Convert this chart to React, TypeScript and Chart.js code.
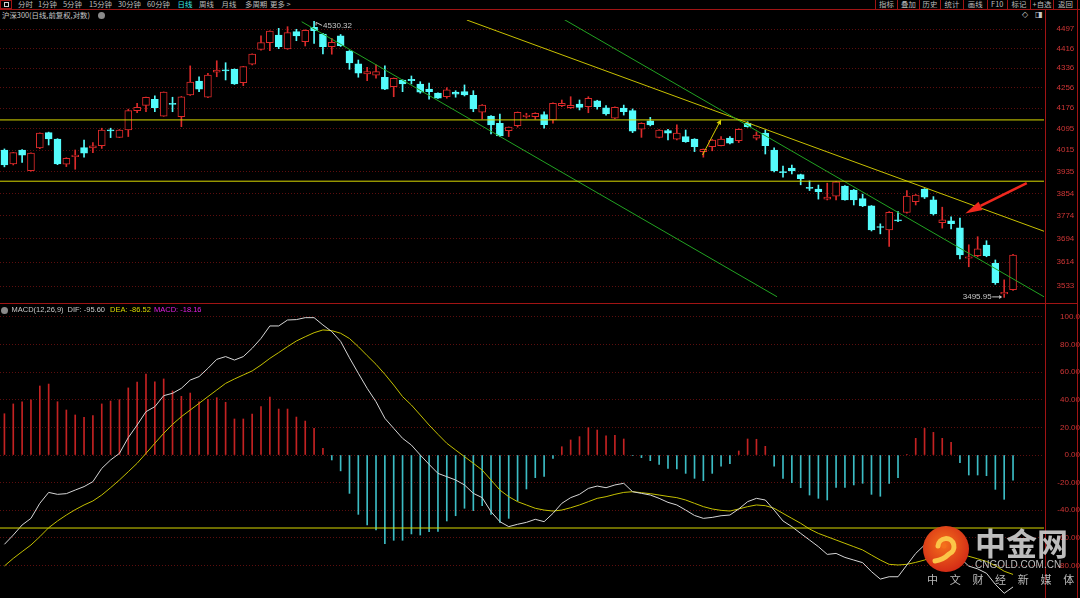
import React, { useEffect, useRef } from 'react';
import { Chart, registerables } from 'chart.js';

Chart.register(...registerables);

// ---------- price data (沪深300 daily) ----------
const OPEN = [4015, 3963, 4015, 3938, 4023, 4081, 4056, 3962, 3990, 4024,
  4023, 4031, 4091, 4063, 4091, 4166, 4187, 4211, 4145, 4195,
  4143, 4228, 4283, 4219, 4319, 4328, 4331, 4277, 4352, 4413,
  4441, 4473, 4415, 4487, 4445, 4505, 4477, 4424, 4469, 4406,
  4353, 4312, 4307, 4299, 4261, 4288, 4291, 4271, 4251, 4235,
  4221, 4239, 4241, 4227, 4160, 4145, 4117, 4089, 4108, 4143,
  4143, 4151, 4130, 4186, 4178, 4192, 4182, 4205, 4177, 4137,
  4176, 4166, 4094, 4127, 4063, 4089, 4056, 4066, 4056, 4009,
  4028, 4031, 4060, 4050, 4117, 4060, 4079, 4015, 3934, 3947,
  3923, 3877, 3870, 3834, 3845, 3881, 3867, 3836, 3810, 3736,
  3725, 3760, 3786, 3825, 3870, 3831, 3750, 3757, 3732, 3627,
  3636, 3672, 3610, 3507, 3521];
const HIGH = [4019, 4006, 4017, 4004, 4080, 4083, 4058, 3986, 4015, 4053,
  4043, 4098, 4098, 4093, 4172, 4195, 4220, 4225, 4240, 4219,
  4222, 4345, 4301, 4315, 4366, 4358, 4333, 4343, 4395, 4469,
  4490, 4501, 4508, 4497, 4495, 4530.32, 4480, 4459, 4475, 4408,
  4369, 4339, 4349, 4345, 4296, 4289, 4304, 4281, 4275, 4236,
  4257, 4245, 4268, 4245, 4190, 4147, 4153, 4103, 4161, 4156,
  4158, 4162, 4197, 4208, 4221, 4208, 4221, 4207, 4186, 4181,
  4188, 4173, 4119, 4140, 4093, 4094, 4111, 4091, 4058, 4019,
  4055, 4066, 4066, 4096, 4123, 4084, 4091, 4023, 3955, 3959,
  3925, 3900, 3885, 3892, 3899, 3883, 3869, 3852, 3811, 3746,
  3789, 3789, 3865, 3851, 3872, 3843, 3805, 3771, 3766, 3673,
  3701, 3687, 3621, 3554, 3640];
const LOW = [3952, 3959, 3968, 3936, 4020, 4034, 3960, 3953, 3943, 3988,
  4005, 4021, 4062, 4062, 4066, 4158, 4162, 4162, 4144, 4162,
  4104, 4226, 4241, 4217, 4301, 4288, 4270, 4265, 4349, 4410,
  4408, 4416, 4413, 4449, 4427, 4438, 4394, 4393, 4425, 4331,
  4299, 4285, 4295, 4249, 4221, 4241, 4272, 4235, 4211, 4214,
  4215, 4219, 4224, 4162, 4134, 4076, 4066, 4066, 4102, 4137,
  4133, 4098, 4117, 4182, 4175, 4169, 4158, 4172, 4149, 4135,
  4149, 4081, 4063, 4107, 4061, 4053, 4053, 4044, 4009, 3988,
  4012, 4030, 4038, 4043, 4102, 4053, 4000, 3933, 3914, 3926,
  3886, 3865, 3834, 3831, 3831, 3830, 3813, 3807, 3721, 3711,
  3667, 3754, 3784, 3813, 3836, 3777, 3731, 3728, 3625, 3598,
  3632, 3632, 3539, 3495.95, 3519];
const CLOSE = [3959, 4005, 3996, 4003, 4079, 4057, 3963, 3984, 3996, 4003,
  4031, 4091, 4088, 4091, 4166, 4179, 4219, 4178, 4239, 4191,
  4221, 4279, 4251, 4308, 4328, 4325, 4272, 4342, 4394, 4441,
  4489, 4424, 4483, 4469, 4493, 4491, 4424, 4442, 4428, 4357,
  4315, 4322, 4322, 4251, 4295, 4272, 4285, 4239, 4241, 4215,
  4248, 4231, 4228, 4173, 4188, 4111, 4068, 4102, 4160, 4148,
  4156, 4112, 4195, 4195, 4187, 4179, 4215, 4182, 4153, 4179,
  4162, 4087, 4117, 4111, 4091, 4079, 4079, 4047, 4028, 4018,
  4053, 4056, 4041, 4094, 4104, 4072, 4031, 3937, 3930, 3937,
  3908, 3873, 3861, 3841, 3897, 3831, 3831, 3810, 3725, 3733,
  3787, 3756, 3845, 3849, 3841, 3781, 3760, 3747, 3638, 3632,
  3659, 3636, 3545, 3513, 3638];

// ---------- MACD(12,26,9) ----------
const DIF = [-64.7, -58.0, -50.7, -45.9, -35.0, -27.1, -28.5, -28.0, -25.4, -22.9,
  -19.3, -9.7, -3.6, 1.2, 12.6, 21.7, 31.4, 35.0, 43.0, 44.7,
  48.3, 54.3, 56.8, 62.8, 69.3, 71.3, 68.8, 71.3, 77.3, 84.5,
  93.5, 93.5, 97.8, 98.1, 99.5, 99.5, 94.2, 89.4, 82.3, 70.4,
  59.2, 48.3, 38.6, 26.6, 19.3, 12.1, 7.2, 0.0, -6.8, -13.3,
  -15.7, -18.1, -21.7, -27.8, -30.9, -41.1, -48.3, -51.9, -50.2, -48.8,
  -46.6, -48.3, -42.3, -35.0, -30.9, -28.5, -24.2, -22.5, -23.7, -21.7,
  -20.5, -26.6, -27.8, -29.0, -31.4, -34.3, -36.2, -39.9, -43.8, -45.9,
  -45.2, -44.0, -43.5, -39.1, -33.8, -31.4, -32.6, -39.9, -47.8, -51.9,
  -56.8, -61.6, -66.4, -72.0, -71.3, -74.2, -76.1, -78.0, -84.5, -89.9,
  -88.2, -88.2, -79.7, -71.3, -65.2, -65.5, -66.0, -66.5, -74.5, -80.5,
  -82.5, -85.7, -93.7, -100.2, -95.60];
const DEA = [-80.4, -74.9, -70.0, -65.2, -59.2, -52.7, -47.8, -43.5, -39.6, -36.2,
  -33.3, -29.0, -23.7, -18.1, -12.1, -6.0, 1.2, 8.5, 15.7, 22.2,
  27.8, 32.6, 37.4, 42.3, 47.1, 51.9, 55.1, 58.0, 60.9, 65.2,
  70.0, 74.2, 78.5, 82.6, 85.7, 88.6, 90.6, 90.1, 88.2, 84.4,
  78.5, 72.0, 65.7, 58.5, 50.7, 42.3, 36.2, 29.0, 21.7, 15.0,
  8.5, 3.6, -1.2, -6.0, -10.9, -18.1, -25.4, -30.2, -33.8, -36.2,
  -38.6, -39.9, -40.6, -39.9, -38.2, -36.2, -33.8, -31.4, -30.2, -28.5,
  -27.1, -26.6, -27.3, -28.0, -29.0, -30.0, -30.9, -32.6, -35.0, -37.4,
  -39.1, -40.1, -40.6, -39.1, -37.4, -36.2, -36.7, -38.6, -42.3, -45.9,
  -49.5, -53.6, -56.8, -59.2, -61.6, -64.0, -66.4, -68.8, -72.5, -76.1,
  -79.2, -79.7, -79.2, -77.8, -76.1, -73.5, -72.0, -71.0, -71.6, -73.4,
  -75.2, -77.1, -80.2, -84.2, -86.52];
const MACD_BAR = [29.9, 37.0, 38.6, 39.9, 50.0, 51.4, 38.6, 32.6, 29.0, 27.3,
  28.5, 37.0, 39.1, 40.1, 48.6, 52.9, 58.7, 53.1, 55.1, 46.4,
  42.5, 44.9, 38.6, 40.3, 41.5, 38.2, 26.1, 26.1, 29.7, 35.0,
  42.0, 33.3, 33.3, 27.5, 24.6, 19.3, 4.8, -3.6, -11.5, -27.8,
  -43.0, -50.7, -54.3, -64.3, -61.8, -61.8, -57.2, -58.0, -55.6, -55.3,
  -47.8, -44.0, -38.6, -40.3, -36.7, -43.0, -48.8, -45.9, -33.3, -24.6,
  -16.4, -15.5, -2.4, 6.0, 10.9, 13.3, 19.8, 18.1, 13.8, 14.3,
  11.6, -0.4, -1.9, -4.1, -6.8, -9.7, -10.1, -13.3, -16.9, -18.6,
  -13.3, -8.0, -6.3, 2.9, 11.6, 11.4, 6.3, -8.0, -16.9, -20.1,
  -23.7, -29.0, -31.4, -32.6, -23.4, -23.4, -21.7, -20.5, -28.5, -29.9,
  -20.5, -16.4, 0.3, 12.1, 19.3, 16.4, 12.1, 9.2, -5.6, -14.5,
  -14.5, -15.0, -24.9, -32.1, -18.16];

// ---------- axes ----------
const PRICE_TICKS = [4497, 4416, 4336, 4256, 4176, 4095, 4015, 3935, 3854, 3774, 3694, 3614, 3533];
const MACD_TICKS = [100, 80, 60, 40, 20, 0, -20, -40, -60, -80];
const PRICE_RANGE = [3477.6, 4536.4];
const MACD_RANGE = [-103.6, 109.4];
const SLOT_RANGE = [-0.5, 117.5];

// ---------- drawn studies (bar index, value) ----------
const LEVELS = [4130, 3899];
const GREEN_A = [[33.6, 4529], [87.33, 3498]];
const GREEN_B = [[62.39, 4557.7], [117.5, 3498]];
const YELLOW_T = [[52.26, 4536.4], [117.5, 3720]];
const UP_ARROW = [[78.9, 3996], [81.0, 4132]];
const RED_ARROW = [[115.55, 3892], [108.6, 3783]];
const MACD_LEVEL = -52.9;

// ---------- colours / fonts ----------
const UP = '#dc2a2a';
const DOWN = '#54fcfc';
const BAR_UP = '#c42222';
const BAR_DOWN = '#3cbcc4';
const GRID = '#5c0e0e';
const AXIS_TXT = '#d03636';
const FRAME = '#a01414';
const TXT = '#bdbdbd';
const FONT_CJK = '"Noto Sans CJK SC", "Noto Sans", sans-serif';
const FONT_NUM = '"Liberation Sans", Arial, sans-serif';

const TABS = ['分时', '1分钟', '5分钟', '15分钟', '30分钟', '60分钟', '日线', '周线', '月线', '多周期', '更多 >'];
const TAB_X = [18, 38, 63, 89, 118, 147, 177.5, 199, 221.5, 245, 270];
const BTNS = ['指标', '叠加', '历史', '统计', '画线', 'F10', '标记', '+自选', '返回'];
const BTN_SEP = [875, 897, 919, 940, 963, 986.5, 1007, 1030, 1053, 1077];

function drawArrow(ctx: CanvasRenderingContext2D, x1: number, y1: number, x2: number, y2: number,
  color: string, lw: number, headLen: number, headHalf: number) {
  const a = Math.atan2(y2 - y1, x2 - x1);
  const bx = x2 - headLen * Math.cos(a);
  const by = y2 - headLen * Math.sin(a);
  ctx.strokeStyle = color;
  ctx.fillStyle = color;
  ctx.lineWidth = lw;
  ctx.beginPath();
  ctx.moveTo(x1, y1);
  ctx.lineTo(bx, by);
  ctx.stroke();
  ctx.beginPath();
  ctx.moveTo(x2, y2);
  ctx.lineTo(bx + headHalf * Math.sin(a), by - headHalf * Math.cos(a));
  ctx.lineTo(bx - headHalf * Math.sin(a), by + headHalf * Math.cos(a));
  ctx.closePath();
  ctx.fill();
}

const overlayPlugin = {
  id: 'priceOverlay',
  afterDatasetsDraw(chart: any) {
    const { ctx, scales } = chart;
    const px = (v: number) => scales.x.getPixelForValue(v);
    const py = (v: number) => scales.y.getPixelForValue(v);
    ctx.save();
    drawArrow(ctx, px(UP_ARROW[0][0]), py(UP_ARROW[0][1]), px(UP_ARROW[1][0]), py(UP_ARROW[1][1]), '#d6d000', 1, 5, 2.5);
    drawArrow(ctx, px(RED_ARROW[0][0]), py(RED_ARROW[0][1]), px(RED_ARROW[1][0]), py(RED_ARROW[1][1]), '#f0281e', 2.5, 17, 4.5);

    ctx.font = `8px ${FONT_NUM}`;
    ctx.textBaseline = 'middle';
    // highest high
    const hiVal = Math.max(...HIGH);
    const hi = HIGH.indexOf(hiVal);
    const hx = px(hi), hy = py(hiVal);
    ctx.strokeStyle = '#c8c8c8';
    ctx.fillStyle = '#c8c8c8';
    ctx.lineWidth = 1;
    ctx.beginPath();
    ctx.moveTo(hx + 8, hy + 4);
    ctx.lineTo(hx + 2, hy + 1);
    ctx.moveTo(hx + 2, hy + 1);
    ctx.lineTo(hx + 2, hy + 4);
    ctx.stroke();
    ctx.textAlign = 'left';
    ctx.fillText(hiVal.toFixed(2), hx + 9, hy + 4.5);
    // lowest low
    const loVal = Math.min(...LOW);
    const lo = LOW.indexOf(loVal);
    const lx = px(lo), ly = py(loVal) - 0.5;
    drawArrow(ctx, lx - 12, ly, lx - 2, ly, '#c8c8c8', 1, 3, 2);
    ctx.fillStyle = '#c8c8c8';
    ctx.textAlign = 'right';
    ctx.fillText(loVal.toFixed(2), lx - 12.5, ly);
    ctx.restore();
  },
};

const seg = (pts: number[][]) => pts.map(([x, y]) => ({ x, y }));
const lineDs = (data: any[], color: string, order = 0) => ({
  type: 'line', data, borderColor: color, borderWidth: 1, pointRadius: 0, fill: false, tension: 0, order,
});

function rightAxis(extra: any) {
  return {
    position: 'right',
    afterFit: (s: any) => { s.width = 36; s.paddingTop = 0; s.paddingBottom = 0; },
    grid: { color: GRID, lineWidth: 1, drawTicks: false },
    border: { display: false, dash: [1, 2] },
    ...extra,
  };
}

export default function App() {
  const priceRef = useRef<HTMLCanvasElement>(null);
  const macdRef = useRef<HTMLCanvasElement>(null);

  useEffect(() => {
    document.body.style.margin = '0';
    document.body.style.background = '#000';
    const up = OPEN.map((o, i) => CLOSE[i] >= o);
    const xAxis = { type: 'linear', min: SLOT_RANGE[0], max: SLOT_RANGE[1], display: false, offset: false };
    const common = {
      responsive: false, animation: false, devicePixelRatio: 1, events: [],
      layout: { padding: 0, autoPadding: false },
      plugins: { legend: { display: false }, tooltip: { enabled: false } },
    };

    const price = new Chart(priceRef.current as HTMLCanvasElement, {
      type: 'bar',
      data: {
        datasets: [
          lineDs(seg([[SLOT_RANGE[0], LEVELS[0]], [SLOT_RANGE[1], LEVELS[0]]]), '#d8d800'),
          lineDs(seg([[SLOT_RANGE[0], LEVELS[1]], [SLOT_RANGE[1], LEVELS[1]]]), '#d8d800'),
          lineDs(seg(GREEN_A), '#22a322'),
          lineDs(seg(GREEN_B), '#22a322'),
          lineDs(seg(YELLOW_T), '#c8c000'),
          {
            type: 'bar', order: 1, grouped: false, barThickness: 7, minBarLength: 1,
            data: OPEN.map((o, i) => ({ x: i, y: [Math.min(o, CLOSE[i]), Math.max(o, CLOSE[i])] })),
            backgroundColor: up.map((u) => (u ? '#000000' : DOWN)),
            borderColor: up.map((u) => (u ? UP : DOWN)),
            borderWidth: 1, borderSkipped: false,
          },
          {
            type: 'bar', order: 2, grouped: false, barThickness: 1,
            data: OPEN.map((_, i) => ({ x: i, y: [LOW[i], HIGH[i]] })),
            backgroundColor: up.map((u) => (u ? UP : DOWN)),
            borderWidth: 0,
          },
        ] as any,
      },
      options: {
        ...common,
        scales: {
          x: xAxis,
          y: rightAxis({
            type: 'logarithmic', min: PRICE_RANGE[0], max: PRICE_RANGE[1],
            afterBuildTicks: (s: any) => { s.ticks = PRICE_TICKS.map((v) => ({ value: v })); },
            ticks: {
              callback: (v: any) => String(v), color: AXIS_TXT, autoSkip: false,
              font: { family: FONT_NUM, size: 8 }, padding: 12.5, crossAlign: 'near',
            },
          }),
        },
      } as any,
      plugins: [overlayPlugin],
    } as any);

    const macd = new Chart(macdRef.current as HTMLCanvasElement, {
      type: 'bar',
      data: {
        datasets: [
          lineDs(seg([[SLOT_RANGE[0], MACD_LEVEL], [SLOT_RANGE[1], MACD_LEVEL]]), '#d8d800', 0),
          lineDs(DIF.map((v, i) => ({ x: i, y: v })), '#d6d6d6', 1),
          lineDs(DEA.map((v, i) => ({ x: i, y: v })), '#c4c000', 2),
          {
            type: 'bar', order: 3, grouped: false, barThickness: 1,
            data: MACD_BAR.map((v, i) => ({ x: i, y: v })),
            backgroundColor: MACD_BAR.map((v) => (v >= 0 ? BAR_UP : BAR_DOWN)),
            borderWidth: 0,
          },
        ] as any,
      },
      options: {
        ...common,
        scales: {
          x: xAxis,
          y: rightAxis({
            type: 'linear', min: MACD_RANGE[0], max: MACD_RANGE[1],
            afterBuildTicks: (s: any) => { s.ticks = MACD_TICKS.map((v) => ({ value: v })); },
            ticks: {
              callback: (v: any) => (v === 100 ? '100.0' : Number(v).toFixed(2)), color: AXIS_TXT,
              autoSkip: false, font: { family: FONT_NUM, size: 8 }, padding: 8, crossAlign: 'far',
            },
          }),
        },
      } as any,
    } as any);

    return () => { price.destroy(); macd.destroy(); };
  }, []);

  const abs = (s: React.CSSProperties): React.CSSProperties => ({ position: 'absolute', ...s });
  const last = DIF.length - 1;

  return (
    <div style={{ position: 'fixed', left: 0, top: 0, width: 1080, height: 598, background: '#000', overflow: 'hidden', fontFamily: FONT_CJK }}>
      {/* top toolbar */}
      <div style={abs({ left: 0, top: 0, width: 12, height: 9, border: `1px solid ${FRAME}`, boxSizing: 'border-box' })}>
        <div style={abs({ left: 3, top: 1, width: 5, height: 5, border: '1px solid #d0d0d0', boxSizing: 'border-box' })} />
      </div>
      {TABS.map((t, i) => (
        <span key={t} style={abs({ left: TAB_X[i], top: 0, fontSize: 7.4, lineHeight: '8px', whiteSpace: 'nowrap', color: t === '日线' ? '#3ee8e8' : TXT })}>{t}</span>
      ))}
      {BTNS.map((b, i) => (
        <div key={b} style={abs({ left: BTN_SEP[i] + 1, top: 0, width: BTN_SEP[i + 1] - BTN_SEP[i] - 1, textAlign: 'center', fontSize: 7.4, lineHeight: '8px', color: TXT, whiteSpace: 'nowrap' })}>{b}</div>
      ))}
      {BTN_SEP.map((x) => (
        <div key={x} style={abs({ left: x, top: 0, width: 1, height: 9, background: FRAME })} />
      ))}
      <div style={abs({ left: 0, top: 9, width: 1080, height: 1, background: FRAME })} />

      {/* title row */}
      <span style={abs({ left: 2, top: 11, fontSize: 7.4, lineHeight: '8px', color: '#c8c8c8', whiteSpace: 'nowrap' })}>沪深300(日线,前复权,对数)</span>
      <div style={abs({ left: 98, top: 11.5, width: 7, height: 7, borderRadius: 4, background: '#8a8a8a' })} />
      <span style={abs({ left: 1022, top: 11, fontSize: 8, lineHeight: '8px', color: '#c8c8c8', fontFamily: '"DejaVu Sans", sans-serif' })}>◇</span>
      <span style={abs({ left: 1035, top: 11, fontSize: 8, lineHeight: '8px', color: '#c8c8c8', fontFamily: '"DejaVu Sans", sans-serif' })}>◨</span>

      {/* charts */}
      <canvas ref={priceRef} width={1080} height={283} style={abs({ left: 0, top: 20, display: 'block' })} />
      <canvas ref={macdRef} width={1080} height={294} style={abs({ left: 0, top: 304, display: 'block' })} />

      {/* frame lines */}
      <div style={abs({ left: 0, top: 303, width: 1077, height: 1, background: FRAME })} />
      <div style={abs({ left: 1045, top: 10, width: 1, height: 588, background: FRAME })} />
      <div style={abs({ left: 1077, top: 10, width: 1, height: 588, background: FRAME })} />

      {/* MACD legend */}
      <div style={abs({ left: 1, top: 306.5, width: 7, height: 7, borderRadius: 4, background: '#8a8a8a' })} />
      <span style={abs({ left: 11.5, top: 306, fontSize: 7.5, lineHeight: '8px', fontFamily: FONT_NUM, color: '#c8c8c8', whiteSpace: 'nowrap' })}>MACD(12,26,9)</span>
      <span style={abs({ left: 67.5, top: 306, fontSize: 7.5, lineHeight: '8px', fontFamily: FONT_NUM, color: '#c8c8c8', whiteSpace: 'nowrap' })}>DIF: {DIF[last].toFixed(2)}</span>
      <span style={abs({ left: 110, top: 306, fontSize: 7.5, lineHeight: '8px', fontFamily: FONT_NUM, color: '#d8d800', whiteSpace: 'nowrap' })}>DEA: {DEA[last].toFixed(2)}</span>
      <span style={abs({ left: 154, top: 306, fontSize: 7.5, lineHeight: '8px', fontFamily: FONT_NUM, color: '#e020e0', whiteSpace: 'nowrap' })}>MACD: {MACD_BAR[last].toFixed(2)}</span>

      {/* watermark */}
      <svg style={abs({ left: 922, top: 524.5 })} width={48} height={48} viewBox="0 0 48 48">
        <defs>
          <radialGradient id="lg" cx="45%" cy="40%" r="60%">
            <stop offset="0%" stopColor="#f4701c" />
            <stop offset="100%" stopColor="#d42c16" />
          </radialGradient>
        </defs>
        <circle cx="24" cy="24" r="23" fill="url(#lg)" />
        <path d="M16 21 a8 8 0 1 1 11 8 q-6 6 -14 7" fill="none" stroke="#fbc548" strokeWidth="5" strokeLinecap="round" />
        <circle cx="22" cy="21" r="2.5" fill="#f4701c" />
      </svg>
      <div style={abs({ left: 975, top: 526, fontSize: 31, lineHeight: '31px', fontWeight: 700, color: 'rgba(205,205,205,0.92)', whiteSpace: 'nowrap' })}>中金网</div>
      <div style={abs({ left: 975, top: 560, fontSize: 10, lineHeight: '10px', fontFamily: FONT_NUM, color: 'rgba(210,210,210,0.9)', whiteSpace: 'nowrap' })}>CNGOLD.COM.CN</div>
      <div style={abs({ left: 927, top: 574, fontSize: 11, lineHeight: '11px', letterSpacing: '11.7px', color: 'rgba(205,205,205,0.9)', whiteSpace: 'nowrap' })}>中文财经新媒体</div>
    </div>
  );
}
